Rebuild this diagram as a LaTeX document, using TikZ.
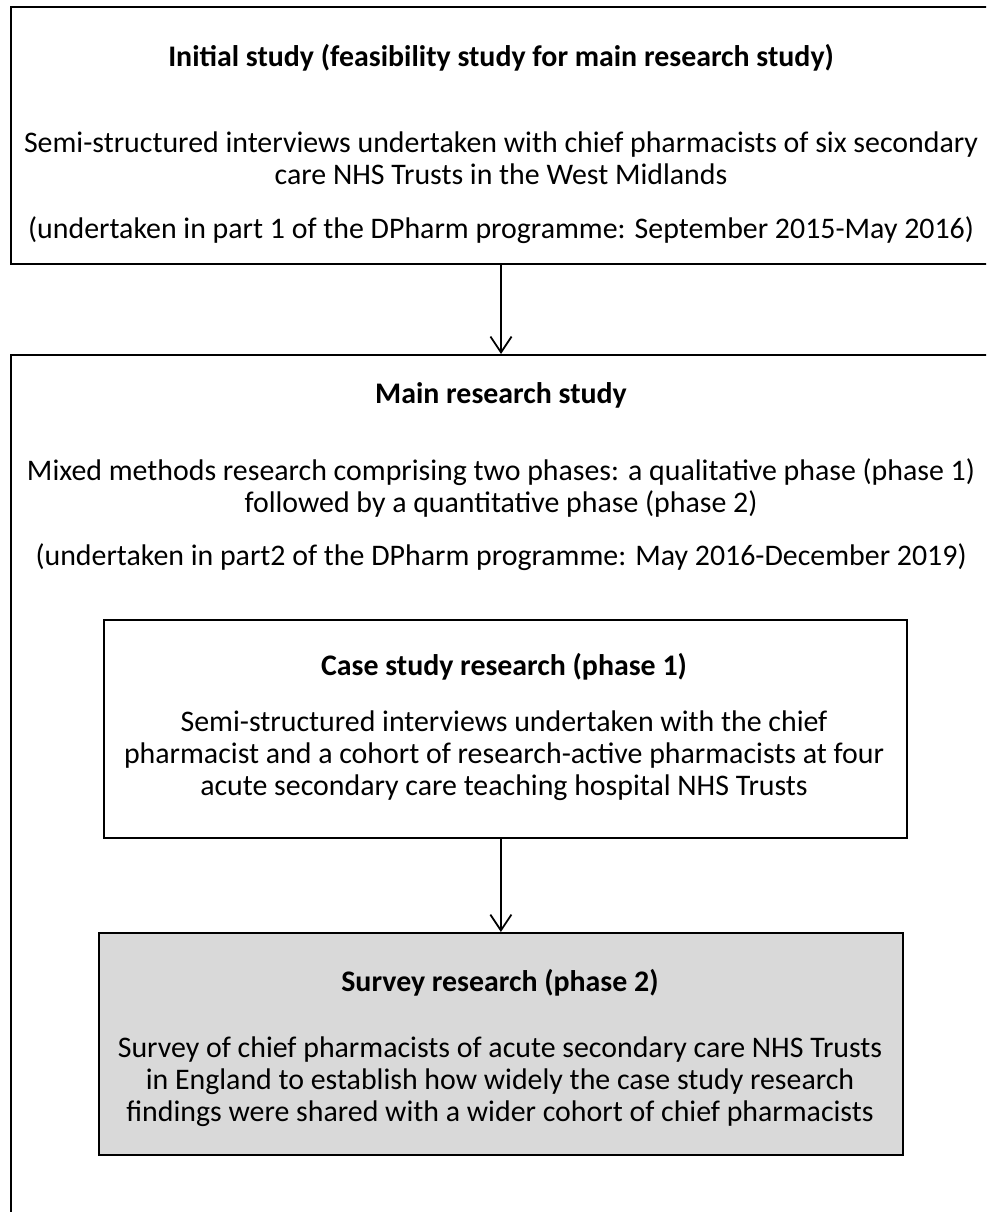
\documentclass[tikz,border=0pt]{standalone}
\usepackage{fontspec}
\setmainfont{Carlito}
\usetikzlibrary{arrows.meta}
\definecolor{shade}{RGB}{217,217,217}

\tikzset{
  box/.style={draw,line width=1.1pt,rectangle,anchor=north west,inner sep=0pt},
  txt/.style={align=center,font=\fontsize{17}{18.2}\selectfont,inner sep=0pt},
  head/.style={txt,font=\fontsize{17}{18.2}\selectfont\bfseries},
  link/.style={line width=1pt,-{Straight Barb[length=9pt,width=12pt,line width=1pt]}}
}

\begin{document}
\begin{tikzpicture}[x=0.02cm,y=-0.02cm]
\useasboundingbox (0,0) rectangle (986,1212);
\clip (0,0) rectangle (986,1212);

% outer boxes (cut by the page on the right)
\node[box,minimum width=20cm,minimum height=5.14cm] (initial) at (10,6) {};
\node[box,minimum width=20cm,minimum height=17.6cm] (main) at (10,354) {};

% inner boxes
\node[box,minimum width=16.06cm,minimum height=4.36cm] (casestudy) at (103,619) {};
\node[box,fill=shade,minimum width=16.08cm,minimum height=4.44cm] (survey) at (98,932) {};

% texts
\node[head] (inithead) at (501,58) {Initial study (feasibility study for main research study)};
\node[txt] (initbody) at (501,158) {Semi-structured interviews undertaken with chief pharmacists of six secondary\\care NHS Trusts in the West Midlands};
\node[txt] (initnote) at (501,230) {(undertaken in part 1 of the DPharm programme: September 2015-May 2016)};

\node[head] (mainhead) at (501,395) {Main research study};
\node[txt] (mainbody) at (501,488) {Mixed methods research comprising two phases: a qualitative phase (phase 1)\\followed by a quantitative phase (phase 2)};
\node[txt] (mainnote) at (501,557) {(undertaken in part2 of the DPharm programme: May 2016-December 2019)};

\node[head] (casehead) at (504,667) {Case study research (phase 1)};
\node[txt] (casebody) at (504,756) {Semi-structured interviews undertaken with the chief\\pharmacist and a cohort of research-active pharmacists at four\\acute secondary care teaching hospital NHS Trusts};

\node[head] (surveyhead) at (500,983) {Survey research (phase 2)};
\node[txt] (surveybody) at (500,1082) {Survey of chief pharmacists of acute secondary care NHS Trusts\\in England to establish how widely the case study research\\findings were shared with a wider cohort of chief pharmacists};

% arrows
\draw[link] (inithead |- initial.south) -- (inithead |- main.north);
\draw[link] (casestudy.south -| survey.north) -- (survey.north);
\end{tikzpicture}
\end{document}
